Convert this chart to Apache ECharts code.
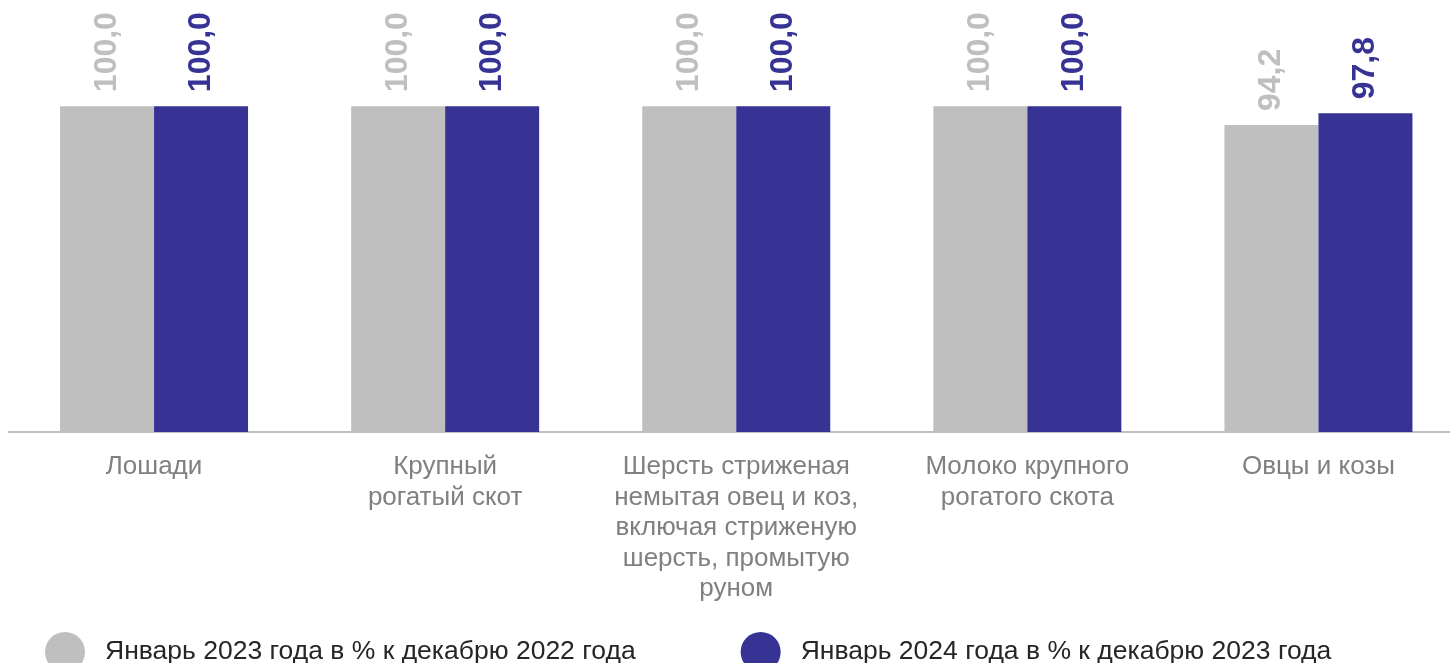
<!DOCTYPE html>
<html>
<head>
<meta charset="utf-8">
<script src="https://cdn.jsdelivr.net/npm/echarts@6/dist/echarts.min.js"></script>
<style>
html,body{margin:0;padding:0;background:#fff;overflow:hidden;width:1450px;height:663px;}
#chart{width:1464px;height:663px;}
</style>
</head>
<body>
<div id="chart"></div>
<script>
const categories = [
  "Лошади",
  "Крупный\nрогатый скот",
  "Шерсть стриженая\nнемытая овец и коз,\nвключая стриженую\nшерсть, промытую\nруном",
  "Молоко крупного\nрогатого скота",
  "Овцы и козы"
];
const seriesNames = ["Январь 2023 года в % к декабрю 2022 года", "Январь 2024 года в % к декабрю 2023 года"];
const values2023 = [100.0, 100.0, 100.0, 100.0, 94.2];
const values2024 = [100.0, 100.0, 100.0, 100.0, 97.8];

const chart = echarts.init(document.getElementById('chart'));
const fmt = p => p.value.toFixed(1).replace('.', ',');
function labelCfg(color) {
  return {
    show: true,
    position: 'top',
    rotate: 90,
    align: 'left',
    verticalAlign: 'middle',
    distance: 14,
    formatter: fmt,
    color: color,
    fontFamily: 'Liberation Sans, Arial, sans-serif',
    fontWeight: 'bold',
    fontSize: 32
  };
}
chart.setOption({
  animation: false,
  grid: { left: 8.5, right: 0, top: 41, bottom: 231, containLabel: false },
  legend: {
    left: 40,
    top: 627,
    icon: 'circle',
    itemWidth: 40,
    itemHeight: 40,
    itemGap: 105,
    textStyle: {
      fontFamily: 'Liberation Sans, Arial, sans-serif',
      fontSize: 26.5,
      color: '#262626',
      padding: [0, 0, 0, 15]
    },
    data: seriesNames
  },
  xAxis: {
    type: 'category',
    data: categories,
    axisLine: { lineStyle: { color: '#bfbfbf', width: 2 } },
    axisTick: { show: false },
    axisLabel: {
      interval: 0,
      margin: 20,
      color: '#808080',
      fontFamily: 'Liberation Sans, Arial, sans-serif',
      fontSize: 26,
      lineHeight: 30.5
    }
  },
  yAxis: {
    type: 'value',
    min: 0,
    max: 120,
    show: false,
    splitLine: { show: false }
  },
  series: [
    {
      name: seriesNames[0],
      type: 'bar',
      data: values2023,
      barWidth: 94,
      barGap: '0%',
      itemStyle: { color: '#bfbfbf' },
      label: labelCfg('#bfbfbf')
    },
    {
      name: seriesNames[1],
      type: 'bar',
      data: values2024,
      barWidth: 94,
      barGap: '0%',
      itemStyle: { color: '#363394' },
      label: labelCfg('#363394')
    }
  ]
});
</script>
</body>
</html>
